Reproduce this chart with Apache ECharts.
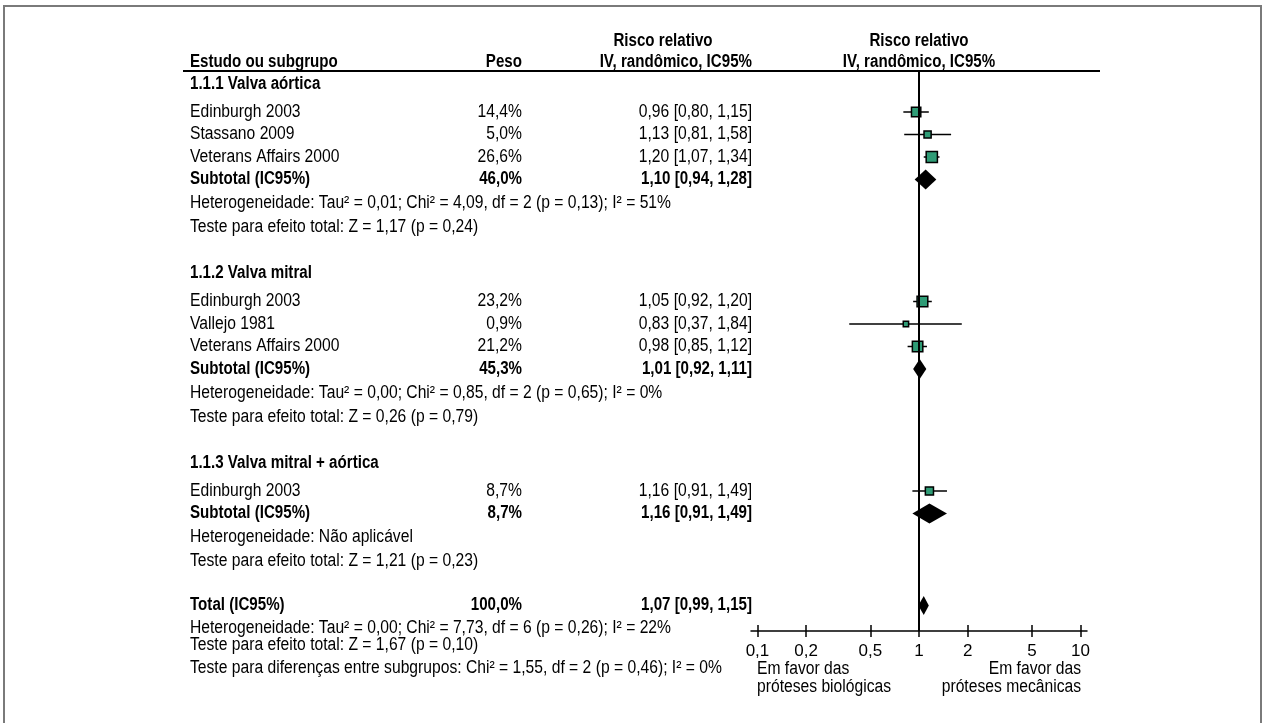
<!DOCTYPE html>
<html>
<head>
<meta charset="utf-8">
<script src="https://cdn.jsdelivr.net/npm/echarts@6/dist/echarts.min.js"></script>
<style>
  html, body { margin: 0; padding: 0; background: #fff; }
  #chart { width: 1265px; height: 723px; }
</style>
</head>
<body>
<div id="chart"></div>
<script>
// estudos individuais
var studyNames = ['Edinburgh 2003', 'Stassano 2009', 'Veterans Affairs 2000',
                  'Edinburgh 2003', 'Vallejo 1981', 'Veterans Affairs 2000',
                  'Edinburgh 2003'];
var studyGroup = [0, 0, 0, 1, 1, 1, 2];
var studyWeight = [14.4, 5.0, 26.6, 23.2, 0.9, 21.2, 8.7];
var studyRR = [0.96, 1.13, 1.20, 1.05, 0.83, 0.98, 1.16];
var studyLow = [0.80, 0.81, 1.07, 0.92, 0.37, 0.85, 0.91];
var studyHigh = [1.15, 1.58, 1.34, 1.20, 1.84, 1.12, 1.49];

// subgrupos
var groupTitles = ['1.1.1 Valva aórtica', '1.1.2 Valva mitral', '1.1.3 Valva mitral + aórtica'];
var subWeight = [46.0, 45.3, 8.7];
var subRR = [1.10, 1.01, 1.16];
var subLow = [0.94, 0.92, 0.91];
var subHigh = [1.28, 1.11, 1.49];
var hetTexts = [
  'Heterogeneidade: Tau² = 0,01; Chi² = 4,09, df = 2 (p = 0,13); I² = 51%',
  'Heterogeneidade: Tau² = 0,00; Chi² = 0,85, df = 2 (p = 0,65); I² = 0%',
  'Heterogeneidade: Não aplicável'
];
var testTexts = [
  'Teste para efeito total: Z = 1,17 (p = 0,24)',
  'Teste para efeito total: Z = 0,26 (p = 0,79)',
  'Teste para efeito total: Z = 1,21 (p = 0,23)'
];

// total
var totalWeight = 100.0;
var totalRR = 1.07;
var totalLow = 0.99;
var totalHigh = 1.15;
var totalTexts = [
  'Heterogeneidade: Tau² = 0,00; Chi² = 7,73, df = 6 (p = 0,26); I² = 22%',
  'Teste para efeito total: Z = 1,67 (p = 0,10)',
  'Teste para diferenças entre subgrupos: Chi² = 1,55, df = 2 (p = 0,46); I² = 0%'
];

var tickValues = [0.1, 0.2, 0.5, 1, 2, 5, 10];

// ---- layout ----
// Liberation Sans comprimida na horizontal, imitando a fonte condensada do original
var FONT = '"Liberation Sans", Arial, sans-serif';
var FS = 18;
var SX = 0.87, SX_BOLD = 0.84;
var colName = 190, colWeight = 522, colRR = 752;
var plotTop = 71, plotBottom = 631;

function fmt(v, d) { return v.toFixed(d).replace('.', ','); }

var texts = [];
function txt(s, x, y, align, bold) {
  texts.push({
    type: 'text', silent: true,
    x: x, y: y, scaleX: bold ? SX_BOLD : SX,
    style: {
      text: s, x: 0, y: 0, fill: '#000',
      font: (bold ? 'bold ' : '') + FS + 'px ' + FONT,
      align: align, verticalAlign: 'middle',
      textAlign: align, textVerticalAlign: 'middle'
    }
  });
}

var studyY = [], subY = [];
var y = 84;
for (var g = 0; g < groupTitles.length; g++) {
  txt(groupTitles[g], colName, y, 'left', true);
  y += 28;
  for (var i = 0; i < studyNames.length; i++) {
    if (studyGroup[i] !== g) continue;
    studyY[i] = y;
    txt(studyNames[i], colName, y, 'left');
    txt(fmt(studyWeight[i], 1) + '%', colWeight, y, 'right');
    txt(fmt(studyRR[i], 2) + ' [' + fmt(studyLow[i], 2) + ', ' + fmt(studyHigh[i], 2) + ']', colRR, y, 'right');
    y += 22.5;
  }
  subY[g] = y;
  txt('Subtotal (IC95%)', colName, y, 'left', true);
  txt(fmt(subWeight[g], 1) + '%', colWeight, y, 'right', true);
  txt(fmt(subRR[g], 2) + ' [' + fmt(subLow[g], 2) + ', ' + fmt(subHigh[g], 2) + ']', colRR, y, 'right', true);
  y += 24;
  txt(hetTexts[g], colName, y, 'left');
  y += 24;
  txt(testTexts[g], colName, y, 'left');
  y += 46;
}
var totalY = y - 2;
txt('Total (IC95%)', colName, totalY, 'left', true);
txt(fmt(totalWeight, 1) + '%', colWeight, totalY, 'right', true);
txt(fmt(totalRR, 2) + ' [' + fmt(totalLow, 2) + ', ' + fmt(totalHigh, 2) + ']', colRR, totalY, 'right', true);
txt(totalTexts[0], colName, totalY + 23, 'left');
txt(totalTexts[1], colName, totalY + 40, 'left');
txt(totalTexts[2], colName, totalY + 63, 'left');

// cabeçalho
txt('Risco relativo', 663, 41, 'center', true);
txt('Estudo ou subgrupo', colName, 62, 'left', true);
txt('Peso', colWeight, 62, 'right', true);
txt('IV, randômico, IC95%', colRR, 62, 'right', true);
txt('Risco relativo', 919, 41, 'center', true);
txt('IV, randômico, IC95%', 919, 62, 'center', true);

// rótulos do eixo
txt('Em favor das', 757, 669, 'left');
txt('próteses biológicas', 757, 687, 'left');
txt('Em favor das', 1081, 669, 'right');
txt('próteses mecânicas', 1081, 687, 'right');

var lg = Math.log10;

var studyData = studyNames.map(function (n, i) {
  return [lg(studyRR[i]), lg(studyLow[i]), lg(studyHigh[i]), studyY[i], studyWeight[i]];
});
var diamondData = subRR.map(function (v, g) {
  return [lg(v), lg(subLow[g]), lg(subHigh[g]), subY[g], 10];
});
diamondData.push([lg(totalRR), lg(totalLow), lg(totalHigh), totalY, 9.5]);

var chart = echarts.init(document.getElementById('chart'));
var axisCommon = {
  type: 'value', min: -1.04, max: 1.04, position: 'bottom',
  splitLine: { show: false }
};
chart.setOption({
  animation: false,
  grid: { left: 751, width: 336, top: plotTop, height: plotBottom - plotTop },
  xAxis: [
    Object.assign({}, axisCommon, {
      axisLine: { show: true, lineStyle: { color: '#000', width: 1.5 } },
      axisTick: { show: true, length: 6, lineStyle: { color: '#000', width: 1.5 },
                  customValues: tickValues.map(lg) },
      axisLabel: {
        show: true, color: '#000', fontFamily: FONT,
        fontSize: 17, margin: 12,
        customValues: tickValues.map(lg),
        formatter: function (v) {
          var r = Math.pow(10, v);
          return r < 1 ? fmt(r, 1) : String(Math.round(r));
        }
      }
    }),
    Object.assign({}, axisCommon, {
      axisLine: { show: false },
      axisTick: { show: true, inside: true, length: 6, lineStyle: { color: '#000', width: 1.5 },
                  customValues: tickValues.map(lg) },
      axisLabel: { show: false }
    })
  ],
  yAxis: { type: 'value', min: plotTop, max: plotBottom, inverse: true, show: false },
  graphic: [
    { type: 'rect', silent: true, shape: { x: 4, y: 6, width: 1257, height: 740 },
      style: { fill: 'none', stroke: '#7a7a7a', lineWidth: 2 } },
    { type: 'line', silent: true, shape: { x1: 183, y1: 71, x2: 1100, y2: 71 },
      style: { stroke: '#000', lineWidth: 2 } }
  ].concat(texts),
  series: [
    {
      type: 'custom',
      data: studyData,
      renderItem: function (params, api) {
        var c = api.coord([api.value(0), api.value(3)]);
        var l = api.coord([api.value(1), api.value(3)]);
        var h = api.coord([api.value(2), api.value(3)]);
        var s = 4 + 1.4 * Math.sqrt(api.value(4));
        return {
          type: 'group',
          children: [
            { type: 'line', shape: { x1: l[0], y1: l[1], x2: h[0], y2: h[1] },
              style: { stroke: '#000', lineWidth: 1.5 } },
            { type: 'rect', shape: { x: c[0] - s / 2, y: c[1] - s / 2, width: s, height: s },
              style: { fill: '#2f9c76', stroke: '#000', lineWidth: 1.5 } }
          ]
        };
      },
      markLine: {
        silent: true, symbol: 'none',
        label: { show: false },
        lineStyle: { color: '#000', width: 2, type: 'solid' },
        data: [{ xAxis: 0 }]
      },
      z: 3
    },
    {
      type: 'custom',
      data: diamondData,
      renderItem: function (params, api) {
        var c = api.coord([api.value(0), api.value(3)]);
        var l = api.coord([api.value(1), api.value(3)]);
        var h = api.coord([api.value(2), api.value(3)]);
        var hh = api.value(4);
        return {
          type: 'polygon',
          shape: { points: [[l[0], c[1]], [c[0], c[1] - hh], [h[0], c[1]], [c[0], c[1] + hh]] },
          style: { fill: '#000' }
        };
      },
      z: 4
    }
  ]
});
</script>
</body>
</html>
